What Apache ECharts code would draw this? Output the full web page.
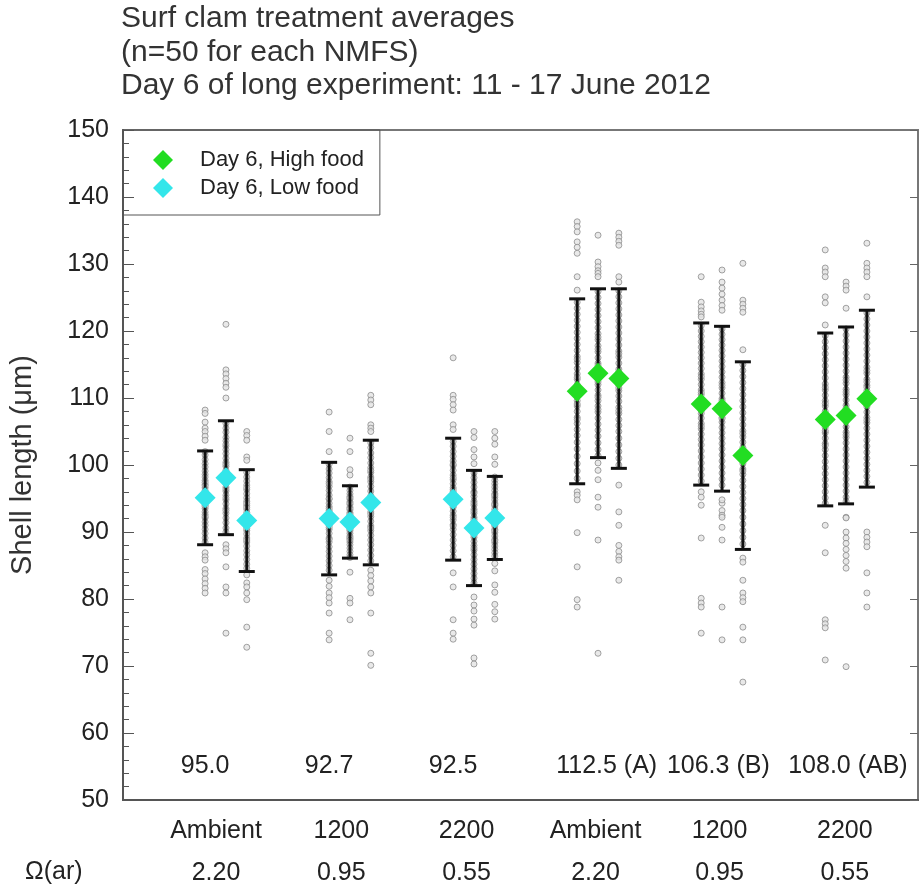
<!DOCTYPE html>
<html>
<head>
<meta charset="utf-8">
<script src="https://cdn.jsdelivr.net/npm/echarts@6/dist/echarts.min.js"></script>
<style>
  html, body { margin: 0; background: #fff; }
  #main { width: 920px; height: 891px; }
</style>
</head>
<body>
<div id="main"></div>
<script>
// treatment labels under the axis
var doseLabels = ['Ambient', '1200', '2200', 'Ambient', '1200', '2200'];
var omegaLabels = ['2.20', '0.95', '0.55', '2.20', '0.95', '0.55'];
// group averages printed inside the plot
var groupMeanLabels = ['95.0', '92.7', '92.5', '112.5 (A)', '106.3 (B)', '108.0 (AB)'];
// food level per group
var groupFood = ['low', 'low', 'low', 'high', 'high', 'high'];

// replicate means and SD (3 replicates per group, 18 total)
var replicateMeans = [95.1, 98.1, 91.7, 92.0, 91.5, 94.4, 94.9, 90.6, 92.1,
                      111.0, 113.7, 112.9, 109.1, 108.4, 101.4, 106.8, 107.4, 109.9];
var replicateSD = [7.0, 8.5, 7.6, 8.4, 5.4, 9.3, 9.1, 8.6, 6.2,
                   13.8, 12.6, 13.4, 12.1, 12.3, 14.0, 12.9, 13.2, 13.2];

// individual shell lengths per replicate
var replicatePoints = [
  [108.2, 107.7, 106.4, 105.5, 105, 104.3, 103.7, 86.9, 86.3, 85.8, 84.4, 83.8, 83, 82.3, 81.6, 80.9,
   101.5, 100.8, 100.2, 99.7, 99.1, 98.6, 98.2, 97.7, 97.1, 96.6, 96.2, 95.8, 95.3, 94.9, 94.4, 94, 93.5, 93, 92.6, 92.1, 91.5, 91, 90.4, 89.8, 89.1, 88.5, 102, 97.4, 95.6, 93.8, 92.3, 96.9, 94.6],
  [121, 114.2, 113.6, 112.9, 112.2, 111.6, 110, 88.1, 87.5, 86.9, 84.8, 81.8, 80.9, 74.9,
   106.2, 105.5, 104.9, 104.1, 103.6, 102.8, 102.3, 101.7, 101, 100.4, 99.8, 99.2, 98.7, 98.3, 97.8, 97.2, 96.7, 96.1, 95.5, 94.8, 94.2, 93.5, 92.8, 92.1, 91.4, 90.6, 90, 100.1, 98.9, 97.5, 96.4, 95.1, 103.1, 93.2],
  [105, 104.4, 103.7, 101.2, 100.7, 83.6, 82.4, 81.8, 80.9, 79.9, 75.8, 72.8,
   98.9, 98.2, 97.6, 97, 96.3, 95.7, 95.1, 94.6, 94, 93.4, 92.9, 92.4, 91.9, 91.3, 90.8, 90.2, 89.7, 89.1, 88.5, 87.9, 87.2, 86.6, 85.9, 85.2, 84.6, 96.6, 93.7, 92.1, 90.5, 88.8, 94.3, 91.1],
  [107.9, 105, 102, 82.8, 81.9, 80.9, 80.2, 79.4, 77.9, 74.9, 73.9,
   100.1, 99.4, 98.8, 98.1, 97.5, 96.8, 96.2, 95.5, 94.9, 94.3, 93.8, 93.2, 92.6, 92.1, 91.5, 91, 90.4, 89.8, 89.1, 88.5, 87.8, 87.1, 86.4, 85.7, 85, 84.3, 97.2, 95, 93.5, 91.8, 90.7, 88.9, 92.9],
  [104, 102, 99.3, 98.5, 84, 80.1, 79.4, 76.9,
   96.7, 96.2, 95.7, 95.3, 94.9, 94.5, 94.1, 93.7, 93.3, 92.9, 92.5, 92.1, 91.8, 91.4, 91, 90.6, 90.2, 89.8, 89.4, 89, 88.5, 88.1, 87.6, 87.1, 86.6, 86.2, 93.5, 92.3, 91.2, 90.4, 89.2, 94.3, 95.1, 88.8, 91.6, 92.7],
  [110.4, 109.7, 109, 106, 105.5, 105, 84.3, 83.5, 82.7, 81.8, 80.9, 77.9, 71.9, 70.1,
   103.3, 102.6, 101.8, 101.1, 100.3, 99.6, 98.9, 98.2, 97.5, 96.8, 96.1, 95.4, 94.8, 94.2, 93.6, 93, 92.3, 91.6, 90.9, 90.2, 89.5, 88.8, 88.1, 87.3, 86.5, 85.7, 97.9, 95.1, 92.7, 90.6, 99.2, 94.5],
  [116, 110.4, 109.8, 109, 108.2, 106, 105.3, 83.9, 81.8, 76.9, 74.9, 74,
   103.5, 102.8, 102, 101.3, 100.6, 99.9, 99.2, 98.5, 97.8, 97.2, 96.6, 96, 95.4, 94.8, 94.3, 93.7, 93.1, 92.5, 91.8, 91.1, 90.4, 89.6, 88.8, 88, 87.2, 86.3, 98.1, 95.7, 93.9, 92.2, 100.1, 96.3, 94.1, 90.9],
  [105, 104.1, 102.3, 101.2, 100.2, 80.3, 79.1, 78.2, 77, 76.1, 71.2, 70.3,
   98.8, 98.1, 97.4, 96.7, 96, 95.3, 94.6, 94, 93.4, 92.8, 92.2, 91.6, 91, 90.4, 89.8, 89.2, 88.6, 88, 87.3, 86.6, 85.9, 85.2, 84.5, 83.8, 83.1, 82.4, 95.8, 93.1, 90.8, 89.5, 87.6, 91.9, 94.3],
  [105, 104, 103.1, 101.2, 100.1, 85.3, 84.2, 82.1, 81, 79.2, 78.1, 77,
   98.2, 97.7, 97.2, 96.7, 96.2, 95.7, 95.2, 94.8, 94.3, 93.9, 93.4, 93, 92.6, 92.2, 91.8, 91.3, 90.9, 90.4, 89.9, 89.4, 88.9, 88.4, 87.9, 87.4, 86.9, 86.4, 94.1, 92.9, 91.6, 90.2, 88.7, 95.5, 92.4, 91.1],
  [136.3, 135.6, 134.8, 133.3, 132.5, 131.6, 128.1, 126.1, 96, 95.5, 94.8, 89.9, 84.8, 79.9, 78.8,
   124.3, 123.4, 122.5, 121.6, 120.7, 119.8, 118.9, 118, 117.1, 116.2, 115.3, 114.4, 113.6, 112.8, 112, 111.2, 110.4, 109.6, 108.8, 108, 107.1, 106.2, 105.3, 104.4, 103.4, 102.4, 101.3, 100.2, 99.1, 98, 115.8, 111.6, 109.1, 106.8, 113.1],
  [134.3, 130.3, 129.6, 129, 128.6, 128.1, 100.3, 99.2, 97.8, 95.2, 93.7, 88.8, 71.9,
   125.9, 125, 124.1, 123.2, 122.3, 121.4, 120.5, 119.6, 118.7, 117.8, 116.9, 116, 115.2, 114.4, 113.6, 112.8, 112, 111.2, 110.4, 109.6, 108.8, 107.9, 107, 106.1, 105.2, 104.3, 103.3, 102.3, 101.4, 117.3, 114.9, 112.4, 110.1, 119.1, 108.3],
  [134.6, 134, 133.4, 132.8, 128.1, 127.3, 97, 93, 91, 88, 87.1, 86.3, 85.8, 82.8,
   126, 125.1, 124.2, 123.3, 122.4, 121.5, 120.6, 119.7, 118.8, 117.9, 117, 116.1, 115.2, 114.3, 113.5, 112.7, 111.9, 111.1, 110.3, 109.5, 108.6, 107.7, 106.8, 105.9, 105, 104, 103, 102, 101, 100, 116.6, 113.9, 111.5, 108.1],
  [128.1, 124.3, 123.6, 123, 122.5, 122.1, 96, 95.2, 94, 89.1, 80.1, 79.4, 78.8, 74.9,
   120.8, 120, 119.2, 118.4, 117.6, 116.8, 116, 115.2, 114.4, 113.6, 112.8, 112, 111.2, 110.5, 109.8, 109.1, 108.4, 107.7, 107, 106.2, 105.4, 104.6, 103.8, 103, 102.1, 101.2, 100.3, 99.4, 98.5, 97.6, 113.2, 110.8, 108.1, 105.8],
  [129.1, 127.3, 126.4, 125.5, 124.6, 123.8, 123.1, 94.3, 94.8, 93.2, 92.5, 92.2, 90.7, 88.8, 78.8, 73.9,
   120.3, 119.5, 118.7, 117.9, 117.1, 116.3, 115.5, 114.7, 113.9, 113.1, 112.3, 111.5, 110.7, 109.9, 109.2, 108.5, 107.8, 107.1, 106.4, 105.6, 104.8, 104, 103.2, 102.4, 101.5, 100.6, 99.7, 98.8, 97.9, 97, 111.9, 109.6, 106.9],
  [130.1, 124.6, 124, 123.4, 122.8, 117.2, 86.1, 85.5, 82.8, 80.9, 80.2, 79.6, 75.8, 73.9, 67.6,
   115, 114.1, 113.2, 112.3, 111.4, 110.5, 109.6, 108.7, 107.8, 106.9, 106, 105.1, 104.2, 103.4, 102.6, 101.8, 101, 100.2, 99.4, 98.6, 97.7, 96.8, 95.9, 95, 94.1, 93.2, 92.2, 91.2, 90.2, 89.2, 88.2, 104.7, 102.1, 99.1],
  [132.1, 129.4, 128.8, 128.1, 125.1, 124.2, 120.9, 91, 86.9, 76.9, 76.3, 75.7, 70.9,
   119.3, 118.4, 117.5, 116.6, 115.7, 114.8, 113.9, 113, 112.1, 111.2, 110.4, 109.6, 108.8, 108, 107.2, 106.4, 105.6, 104.8, 104, 103.2, 102.3, 101.4, 100.5, 99.6, 98.7, 97.8, 96.9, 96, 95.1, 94.3, 111.6, 107.5, 105.1, 102.9, 109.2],
  [127.3, 126.7, 126.1, 123.4, 92.2, 92.1, 90, 89.1, 88.3, 87.4, 86.5, 85.6, 84.6, 69.9,
   120.3, 119.4, 118.5, 117.6, 116.7, 115.8, 114.9, 114, 113.1, 112.2, 111.3, 110.5, 109.7, 108.9, 108.1, 107.3, 106.5, 105.7, 104.9, 104.1, 103.3, 102.4, 101.5, 100.6, 99.7, 98.8, 97.9, 97, 96.1, 95.2, 94.6, 112.7, 110.9, 106.9, 104.5, 108.5],
  [133.1, 130.1, 129.4, 128.8, 128.1, 125.1, 90, 89.2, 88.5, 87.8, 83.9, 80.9, 78.8,
   122.7, 121.8, 120.9, 120, 119.1, 118.2, 117.3, 116.4, 115.5, 114.6, 113.7, 112.8, 111.9, 111.1, 110.3, 109.5, 108.7, 107.9, 107.1, 106.3, 105.5, 104.6, 103.7, 102.8, 101.9, 101, 100.1, 99.2, 98.3, 97.4, 114.1, 111.6, 109.1, 106.7, 112.4]
];

// 每组三个重复在x轴上的偏移
var repOffset = 0.168;
function xOf(i) {
  var g = Math.floor(i / 3), r = i % 3;
  return g + (r - 1) * repOffset;
}

// 原图里平均值文字的位置不完全对齐
var meanLabelShift = [-0.168, -0.168, -0.168, 0.07, -0.03, 0.015];
var axisLabelPos = [-0.08, 0.93, 1.94, 2.98, 3.98, 4.99];

var pointData = [];
replicatePoints.forEach(function (arr, i) {
  arr.forEach(function (v) { pointData.push([xOf(i), v]); });
});

var barData = replicateMeans.map(function (m, i) { return [xOf(i), m, replicateSD[i]]; });
var highData = [], lowData = [];
replicateMeans.forEach(function (m, i) {
  if (groupFood[Math.floor(i / 3)] === 'high') highData.push([xOf(i), m]);
  else lowData.push([xOf(i), m]);
});
var meanLabelData = groupMeanLabels.map(function (t, g) {
  return { value: [g + meanLabelShift[g], 55], name: t };
});

var myChart = echarts.init(document.getElementById('main'));
var FONT = 'Liberation Sans, Arial, sans-serif';

var option = {
  animation: false,
  textStyle: { fontFamily: FONT },
  title: {
    text: 'Surf clam treatment averages\n(n=50 for each NMFS)\nDay 6 of long experiment: 11 - 17 June 2012',
    left: 121,
    top: 2,
    padding: 0,
    textStyle: { fontSize: 30, fontWeight: 'normal', color: '#333', lineHeight: 33.5 }
  },
  legend: {
    orient: 'vertical',
    left: 123,
    top: 130,
    padding: [19, 16, 16, 30],
    itemWidth: 20,
    itemHeight: 20,
    itemGap: 6,
    borderColor: '#555',
    borderWidth: 1,
    data: ['Day 6, High food', 'Day 6, Low food'],
    formatter: function (name) { return '{t|' + name + '}'; },
    textStyle: {
      fontSize: 22, color: '#222',
      rich: { t: { fontSize: 22, color: '#222', padding: [0, 0, 0, 22] } }
    }
  },
  graphic: [{
    type: 'text',
    left: 25,
    top: 860,
    style: { text: 'Ω(ar)', fontSize: 25, fill: '#222', fontFamily: FONT }
  }],
  grid: {
    left: 122, right: 2, top: 130, bottom: 91,
    show: true, borderColor: '#777', borderWidth: 2
  },
  xAxis: {
    type: 'value',
    min: -0.83,
    max: 5.58,
    axisLine: { onZero: false, lineStyle: { color: '#555', width: 2 } },
    axisTick: { show: false },
    splitLine: { show: false },
    axisLabel: {
      customValues: axisLabelPos,
      margin: 10,
      formatter: function (v) {
        var g = Math.max(0, Math.min(5, Math.round(v)));
        return '{a|' + doseLabels[g] + '}\n{b|' + omegaLabels[g] + '}';
      },
      rich: {
        a: { fontSize: 25, color: '#222', lineHeight: 42 },
        b: { fontSize: 25, color: '#222', lineHeight: 42 }
      }
    }
  },
  yAxis: [{
    type: 'value',
    min: 50, max: 150, interval: 10,
    name: 'Shell length (μm)',
    nameLocation: 'middle',
    nameGap: 86,
    nameTextStyle: { fontSize: 29, color: '#333' },
    axisLine: { show: true, onZero: false, lineStyle: { color: '#555', width: 2 } },
    axisTick: { show: true, inside: true, length: 11, lineStyle: { color: '#555' } },
    minorTick: { show: true, splitNumber: 5, length: 6, lineStyle: { color: '#555' } },
    splitLine: { show: false },
    axisLabel: { fontSize: 25, color: '#222', margin: 14 }
  }, {
    type: 'value',
    position: 'right',
    min: 50, max: 150, interval: 10,
    axisLine: { show: true, onZero: false, lineStyle: { color: '#777', width: 2 } },
    axisTick: { show: true, inside: true, length: 8, lineStyle: { color: '#666' } },
    splitLine: { show: false },
    axisLabel: { show: false }
  }],
  series: [
    {
      name: 'points',
      type: 'scatter',
      data: pointData,
      symbol: 'circle',
      symbolSize: 6,
      itemStyle: { color: '#e4e4e4', borderColor: '#8c8c8c', borderWidth: 1 },
      z: 1,
      silent: true
    },
    {
      name: 'sd',
      type: 'custom',
      data: barData,
      encode: { x: 0, y: 1 },
      z: 2,
      silent: true,
      renderItem: function (params, api) {
        var x = api.value(0), m = api.value(1), s = api.value(2);
        var top = api.coord([x, m + s]);
        var bot = api.coord([x, m - s]);
        var w = 8;
        var st = { stroke: '#111', lineWidth: 3 };
        return {
          type: 'group',
          children: [
            { type: 'line', shape: { x1: top[0], y1: top[1], x2: bot[0], y2: bot[1] }, style: st },
            { type: 'line', shape: { x1: top[0] - w, y1: top[1], x2: top[0] + w, y2: top[1] }, style: st },
            { type: 'line', shape: { x1: bot[0] - w, y1: bot[1], x2: bot[0] + w, y2: bot[1] }, style: st }
          ]
        };
      }
    },
    {
      name: 'Day 6, High food',
      type: 'scatter',
      data: highData,
      symbol: 'diamond',
      symbolSize: 21,
      itemStyle: { color: '#22dd22', opacity: 1 },
      z: 3
    },
    {
      name: 'Day 6, Low food',
      type: 'scatter',
      data: lowData,
      symbol: 'diamond',
      symbolSize: 21,
      itemStyle: { color: '#33e6ea', opacity: 1 },
      z: 3
    },
    {
      name: 'means',
      type: 'scatter',
      data: meanLabelData,
      symbolSize: 0,
      silent: true,
      itemStyle: { opacity: 1 },
      label: {
        show: true,
        position: 'inside',
        formatter: function (p) { return p.name; },
        fontSize: 25,
        color: '#222',
        opacity: 1
      }
    }
  ]
};

myChart.setOption(option);
</script>
</body>
</html>
